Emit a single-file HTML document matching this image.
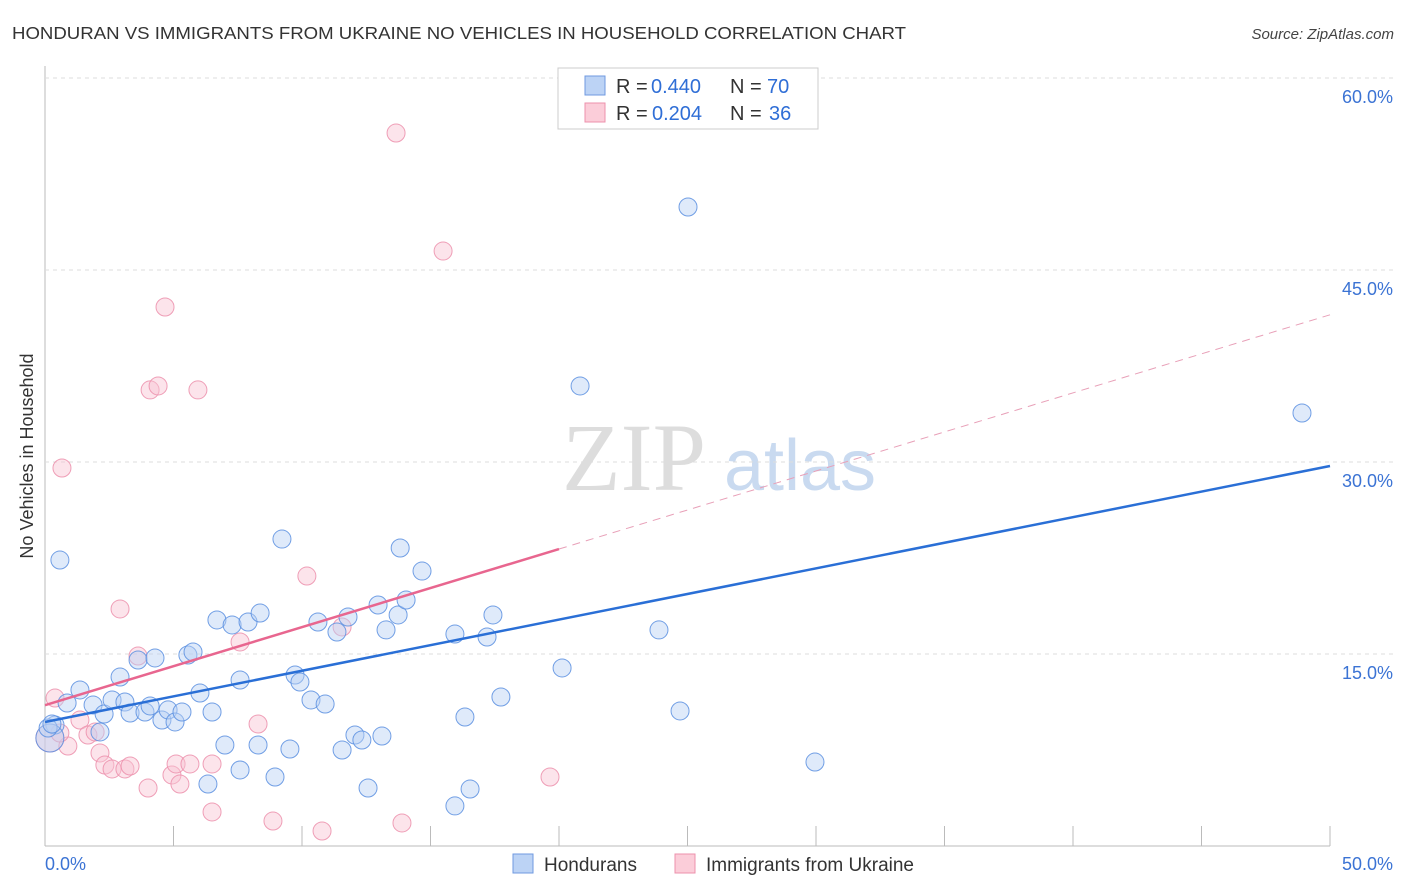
<!DOCTYPE html>
<html><head><meta charset="utf-8"><style>
body{margin:0;background:#fff;font-family:"Liberation Sans",sans-serif;}
#wrap{position:relative;width:1406px;height:892px;overflow:hidden;}
</style></head><body><div id="wrap">
<svg id="svg" width="1406" height="892" xmlns="http://www.w3.org/2000/svg">
<text x="12" y="39" font-size="17.5" fill="#333" textLength="894" lengthAdjust="spacingAndGlyphs">HONDURAN VS IMMIGRANTS FROM UKRAINE NO VEHICLES IN HOUSEHOLD CORRELATION CHART</text>
<text x="1394" y="39" font-size="15" fill="#444" font-style="italic" text-anchor="end">Source: ZipAtlas.com</text>
<text x="33" y="456" font-size="18" fill="#333" text-anchor="middle" transform="rotate(-90 33 456)">No Vehicles in Household</text>
<g><text x="634" y="490" font-size="96" fill="#ddd" font-family="Liberation Serif,serif" text-anchor="middle">ZIP</text><text x="800" y="490" font-size="72" fill="#c9daf0" text-anchor="middle">atlas</text></g>
<g id="grid"></g><g id="marks"></g>
<g>
<rect x="558" y="68" width="260" height="61" fill="#fff" stroke="#ccc"/>
<rect x="585" y="76" width="20" height="19" fill="#bcd3f5" stroke="#6f9ae0"/>
<rect x="585" y="103" width="20" height="19" fill="#fbcdd9" stroke="#ec91ac"/>
<text x="616" y="93" font-size="20" fill="#333">R =</text>
<text x="651" y="93" font-size="20" fill="#2f6ed6">0.440</text>
<text x="730" y="93" font-size="20" fill="#333">N =</text>
<text x="767" y="93" font-size="20" fill="#2f6ed6">70</text>
<text x="616" y="120" font-size="20" fill="#333">R =</text>
<text x="652" y="120" font-size="20" fill="#2f6ed6">0.204</text>
<text x="730" y="120" font-size="20" fill="#333">N =</text>
<text x="769" y="120" font-size="20" fill="#2f6ed6">36</text>
</g>
<g>
<rect x="513" y="854" width="20" height="19" fill="#bcd3f5" stroke="#6f9ae0"/>
<text x="544" y="871" font-size="19" fill="#333">Hondurans</text>
<rect x="675" y="854" width="20" height="19" fill="#fbcdd9" stroke="#ec91ac"/>
<text x="706" y="871" font-size="19" fill="#333">Immigrants from Ukraine</text>
</g>
</svg>
<script>
const blueX=[0.39,0.58,0.86,1.36,1.87,2.14,2.30,2.61,2.92,3.11,3.31,3.62,3.89,4.09,4.28,4.55,4.79,5.06,5.33,5.56,5.76,6.03,6.50,6.69,7.00,7.28,7.59,7.59,7.90,8.29,8.37,8.95,9.22,9.53,9.73,9.92,10.35,10.62,10.90,11.36,11.56,11.79,12.06,12.33,12.57,12.96,13.11,13.27,13.74,13.82,14.05,14.67,15.95,15.95,16.34,16.54,17.20,17.43,17.74,20.12,20.82,23.89,24.71,25.02,29.96,48.91,0.19,0.12,0.27,6.34];
const blueY=[9.45,22.34,11.17,12.19,11.02,8.91,10.31,11.41,13.20,11.25,10.39,14.53,10.47,10.94,14.69,9.84,10.63,9.69,10.47,14.92,15.16,11.95,10.47,17.66,7.89,17.27,5.94,12.97,17.50,7.89,18.20,5.39,23.98,7.58,13.36,12.81,11.41,17.50,11.09,16.72,7.50,17.89,8.67,8.28,4.53,18.83,8.59,16.88,18.05,23.28,19.22,21.48,16.56,3.13,10.08,4.45,16.33,18.05,11.64,13.91,35.94,16.88,10.55,49.92,6.56,33.83,8.44,9.22,9.53,4.84];
const pinkX=[0.19,0.39,0.66,0.89,1.36,1.67,2.14,2.33,2.61,2.92,3.11,3.31,3.62,4.01,4.09,4.40,4.67,4.94,5.10,5.25,5.64,5.95,6.50,6.50,7.59,8.29,8.87,10.19,10.78,11.56,13.66,13.89,15.49,19.65,1.95,0.58];
const pinkY=[8.44,11.56,29.53,7.81,9.84,8.67,7.27,6.33,6.02,18.52,6.02,6.25,14.84,4.53,35.63,35.94,42.11,5.55,6.41,4.84,6.41,35.63,6.41,2.66,15.94,9.53,1.95,21.09,1.17,17.11,55.70,1.80,46.48,5.39,8.91,8.83];
const blueTrend=[9.69,29.69];
const pinkTrend=[11.0,23.2,41.5];
const yTicks=[15,30,45,60];
const xTicks=[0,5,10,15,20,25,30,35,40,45,50];
const NS='http://www.w3.org/2000/svg';
const X=v=>45+v/50*1285, Y=v=>846-v/15*192;
function mk(t,a,p){const e=document.createElementNS(NS,t);for(const k in a)e.setAttribute(k,a[k]);p.appendChild(e);return e;}
const g=document.getElementById('grid'),m=document.getElementById('marks'),svg=document.getElementById('svg');
mk('line',{x1:45,y1:66,x2:45,y2:846,stroke:'#bbb'},g);
mk('line',{x1:45,y1:846,x2:1330,y2:846,stroke:'#bbb'},g);
yTicks.forEach(v=>{
 const l=mk('line',{x1:45,y1:Y(v),x2:1394,y2:Y(v),stroke:'#ddd','stroke-dasharray':'4,4'},g);
 
 
 const t=mk('text',{x:1393,y:Y(v)+25,'font-size':18,fill:'#3b73d4','text-anchor':'end'},svg);
 t.textContent=v.toFixed(1)+'%';
 
 
});
xTicks.forEach(v=>{
 const l=mk('line',{x1:X(v),y1:826,x2:X(v),y2:846,stroke:'#bbb'},g);
 
 
});
[[0,'start',45],[50,'end',1393]].forEach(([v,a,x])=>{
 const t=mk('text',{x:x,y:870,'font-size':18,fill:'#3b73d4','text-anchor':a},svg);
 t.textContent=v.toFixed(1)+'%';
 
 
});
function dots(xs,ys,fill,stroke,name){
 xs.forEach((x,i)=>{
  const big=(x<0.3&&Math.abs(ys[i]-8.44)<0.01);
  const c=mk('circle',{cx:X(x),cy:Y(ys[i]),r:big?14:9,fill:fill,'fill-opacity':0.45,stroke:stroke,'stroke-width':1,'stroke-opacity':0.85},m);
  
  
 });
}
dots(pinkX,pinkY,'#f8c3d2','#ec8fab','ukraine-point');
dots(blueX,blueY,'#b7d0f3','#5b8fe0','honduran-point');
const bt=mk('line',{x1:X(0),y1:Y(blueTrend[0]),x2:X(50),y2:Y(blueTrend[1]),stroke:'#2a6fd6','stroke-width':2.5},m);


const pt=mk('line',{x1:X(0),y1:Y(pinkTrend[0]),x2:X(20),y2:Y(pinkTrend[1]),stroke:'#e8668f','stroke-width':2.5},m);


const pd=mk('line',{x1:X(20),y1:Y(pinkTrend[1]),x2:X(50),y2:Y(pinkTrend[2]),stroke:'#e8a0b8','stroke-width':1,'stroke-dasharray':'8,6'},m);


</script>
</div></body></html>
